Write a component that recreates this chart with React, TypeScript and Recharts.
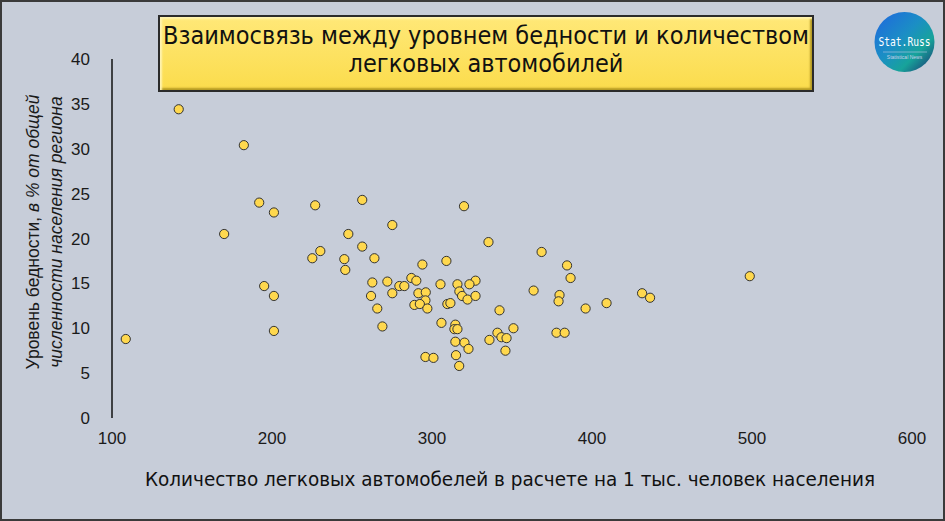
import { Scatter, ScatterChart, XAxis, YAxis } from "recharts";

// Бедность vs автомобили по регионам

const carsPer1000 = [
  141.7, 182.4, 192.0, 201.2, 170.1, 195.1, 201.2, 201.2, 108.6, 227.0,
  256.4, 275.2, 247.7, 256.4, 230.2, 225.2, 245.2, 264.0, 245.8, 262.7,
  272.1, 279.6, 282.7, 287.1, 290.2, 261.9, 275.2, 265.8, 269.0, 294.0,
  309.0, 305.3, 291.5, 296.1, 295.9, 289.0, 292.4, 297.1, 305.9, 309.6,
  311.5, 295.9, 300.9, 335.3, 368.5, 384.4, 498.6, 386.6, 315.9, 327.2,
  323.4, 317.1, 318.8, 322.2, 327.2, 363.5, 379.7, 379.1, 431.3, 436.3,
  409.1, 396.0, 342.2, 314.6, 314.0, 315.9, 340.9, 343.4, 346.6, 350.9,
  377.8, 382.9, 314.6, 320.3, 335.9, 322.8, 345.9, 315.0, 317.0, 320.0,
];

const povertyPct = [
  34.4, 30.4, 24.0, 22.9, 20.5, 14.7, 13.6, 9.7, 8.8, 23.7,
  24.3, 21.5, 20.5, 19.1, 18.6, 17.8, 17.7, 17.8, 16.5, 15.1,
  15.2, 14.7, 14.7, 15.6, 15.3, 13.6, 13.9, 12.2, 10.2, 17.1,
  17.5, 14.9, 13.9, 14.0, 13.1, 12.6, 12.7, 12.2, 10.6, 12.7,
  12.8, 6.8, 6.7, 19.6, 18.5, 17.0, 15.8, 15.6, 14.9, 15.3,
  14.9, 14.1, 13.6, 13.2, 13.6, 14.2, 13.7, 13.0, 13.9, 13.4,
  12.8, 12.2, 12.0, 10.4, 9.9, 9.9, 9.5, 9.0, 8.9, 10.0,
  9.5, 9.5, 8.5, 8.4, 8.7, 7.7, 7.5, 7.0, 5.8, 23.6,
];

const xTicks = [100, 200, 300, 400, 500, 600];
const yTicks = [0, 5, 10, 15, 20, 25, 30, 35, 40];

const data = carsPer1000.map((x, i) => ({ x, y: povertyPct[i] }));

const TICK = { fontSize: 17, fill: "#1a1a1a", fontFamily: "'Liberation Sans', Arial, sans-serif" };
const NARROW = "'Liberation Sans Narrow', 'Arial Narrow', 'DejaVu Sans Condensed', sans-serif";

function Dot(props: any) {
  return <circle cx={props.cx} cy={props.cy} r={4.6} fill="#ffd84e" stroke="#333" strokeWidth={1} />;
}

function Logo() {
  return (
    <svg width={80} height={66} style={{ position: "absolute", left: 863, top: 8 }}>
      <defs>
        <linearGradient id="lg" x1="0" y1="0" x2="1" y2="1">
          <stop offset="0%" stopColor="#1f66e0" />
          <stop offset="45%" stopColor="#1b8fc4" />
          <stop offset="70%" stopColor="#17a39a" />
          <stop offset="100%" stopColor="#1c2c70" />
        </linearGradient>
      </defs>
      <circle cx={39.5} cy={32} r={30} fill="url(#lg)" />
      <text x={39.5} y={36} textAnchor="middle" fill="#fff" fontSize={12} fontFamily="'DejaVu Sans Mono', monospace" textLength={52} lengthAdjust="spacingAndGlyphs">
        Stat.Russ
      </text>
      <line x1={18} y1={42} x2={62} y2={42} stroke="#b9c6e6" strokeWidth={0.6} />
      <text x={39.5} y={49} textAnchor="middle" fill="#c7d0ea" fontSize={5} fontFamily="sans-serif">
        Statistical  News
      </text>
    </svg>
  );
}

export default function App() {
  return (
    <div
      style={{
        position: "absolute",
        left: 0,
        top: 0,
        width: 945,
        height: 521,
        boxSizing: "border-box",
        background: "#c7cdd9",
        border: "2px solid #3a3a3a",
      }}
    >
      <div
        style={{
          position: "absolute",
          left: 156,
          top: 13,
          width: 652,
          height: 68,
          background: "linear-gradient(#ffe878, #fbdc4c)",
          border: "2px solid #2b2b2b",
          boxShadow: "inset 2px 2px 2px #fff3b0, inset -2px -2px 2px #b59a22",
          textAlign: "center",
          fontFamily: NARROW,
          fontSize: 25,
          lineHeight: "28px",
          paddingTop: 5,
          boxSizing: "content-box",
          color: "#111",
        }}
      >
        Взаимосвязь между уровнем бедности и количеством
        <br />
        легковых автомобилей
      </div>
      <Logo />
      <div style={{ position: "absolute", left: -2, top: -2 }}>
        <ScatterChart width={945} height={521} margin={{ top: 59, right: 33, bottom: 73, left: 0 }}>
          <XAxis
            type="number"
            dataKey="x"
            domain={[100, 600]}
            ticks={xTicks}
            height={30}
            axisLine={false}
            tickLine={false}
            tickMargin={8}
            tick={TICK}
            label={{
              content: () => (
                <text x={510} y={486} textAnchor="middle" fontSize={19} fontFamily={NARROW} fill="#111" textLength={730} lengthAdjust="spacingAndGlyphs">
                  Количество легковых  автомобелей  в расчете на 1 тыс. человек населения
                </text>
              ),
            }}
          />
          <YAxis
            type="number"
            dataKey="y"
            domain={[0, 40]}
            ticks={yTicks}
            width={112}
            axisLine={{ stroke: "#111", strokeWidth: 1.5 }}
            tickLine={false}
            tickMargin={16}
            tick={TICK}
            label={{
              content: () => (
                <g transform="translate(0,232) rotate(-90)" fill="#1a1a1a" fontFamily="'Liberation Sans', Arial, sans-serif" fontSize={17.5}>
                  <text x={0} y={39} textAnchor="middle">
                    Уровень бедности, <tspan fontStyle="italic">в % от общей</tspan>
                  </text>
                  <text x={0} y={62} textAnchor="middle" fontStyle="italic">
                    численности населения региона
                  </text>
                </g>
              ),
            }}
          />
          <Scatter data={data} shape={Dot} isAnimationActive={false} />
        </ScatterChart>
      </div>
    </div>
  );
}
